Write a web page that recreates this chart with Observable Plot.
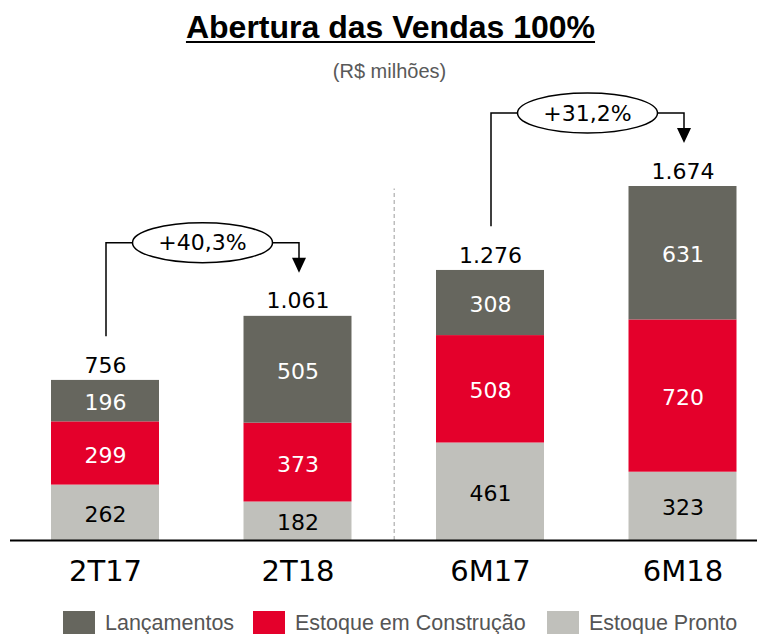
<!DOCTYPE html>
<html><head><meta charset="utf-8">
<script src="https://cdn.jsdelivr.net/npm/d3@7"></script>
<script src="https://cdn.jsdelivr.net/npm/@observablehq/plot@0.6"></script>
<style>
body{margin:0;background:#fff;}
#wrap{position:relative;width:767px;height:634px;overflow:hidden;background:#fff;}
#chart{position:absolute;left:0;top:0;}
#title{position:absolute;left:7px;width:767px;top:9px;text-align:center;font:bold 32px "Liberation Sans",Arial,sans-serif;color:#000;text-decoration:underline;text-decoration-thickness:2px;text-underline-offset:3px;white-space:nowrap;}
#subtitle{position:absolute;left:6px;width:767px;top:60px;text-align:center;font:20px "Liberation Sans",Arial,sans-serif;color:#595959;}
#legend{position:absolute;left:0;top:0;width:767px;height:634px;font:21.5px "Liberation Sans",Arial,sans-serif;color:#555;white-space:nowrap;pointer-events:none;}
#legend .sw{position:absolute;top:611px;width:32px;height:24px;}
#legend .tx{position:absolute;top:611px;line-height:24px;}
</style></head>
<body><div id="wrap">
<div id="title">Abertura das Vendas 100%</div>
<div id="subtitle">(R$ milhões)</div>
<div id="chart"></div>
<div id="legend"></div>
</div>
<script>
const categories = ["2T17", "2T18", "6M17", "6M18"];
const seriesNames = ["Lançamentos", "Estoque em Construção", "Estoque Pronto"];
const lancamentos = [196, 505, 308, 631];
const construcao = [299, 373, 508, 720];
const pronto = [262, 182, 461, 323];
const totals = [756, 1061, 1276, 1674];
const colors = ["#66665E", "#E4002B", "#C0C0BB"];
const growthPairs = [[0, 1], [2, 3]];

const fmt = d3.formatLocale({decimal: ",", thousands: ".", grouping: [3], currency: ["R$", ""]});
const fmtInt = fmt.format(",d");
const fmtPct = fmt.format("+.1%");

// stacked rows (bottom to top: Pronto, Construção, Lançamentos)
const rows = [];
categories.forEach((c, i) => {
  let base = 0;
  [[seriesNames[2], pronto[i]], [seriesNames[1], construcao[i]], [seriesNames[0], lancamentos[i]]].forEach(([s, v]) => {
    rows.push({i, cat: c, series: s, value: v, y1: base, y2: base + v});
    base += v;
  });
});

const half = 0.2805;
const numFont = "'DejaVu Sans', Verdana, sans-serif";

const plot = Plot.plot({
  width: 767,
  height: 634,
  marginLeft: 10,
  marginRight: 10,
  marginTop: 0,
  marginBottom: 94,
  style: {background: "transparent", overflow: "visible"},
  x: {type: "linear", domain: [-0.5, 3.5], range: [8.75, 778.75], axis: null, label: null},
  y: {domain: [0, 1674], range: [540, 186], axis: null, label: null},
  color: {domain: seriesNames, range: colors},
  marks: [
    Plot.ruleX([1.5], {y1: 0, y2: 1662, stroke: "#bdbdbd", strokeWidth: 1.5, strokeDasharray: "4,3"}),
    Plot.rect(rows, {x1: d => d.i - half, x2: d => d.i + half, y1: "y1", y2: "y2", fill: "series"}),
    Plot.text(rows.filter(d => d.series !== seriesNames[2]), {x: d => d.i, y: d => (d.y1 + d.y2) / 2, text: d => fmtInt(d.value), dy: 2, fill: "white", fontSize: 22, fontFamily: numFont}),
    Plot.text(rows.filter(d => d.series === seriesNames[2]), {x: d => d.i, y: d => (d.y1 + d.y2) / 2, text: d => fmtInt(d.value), dy: 2, fill: "black", fontSize: 22, fontFamily: numFont}),
    Plot.text(totals, {x: (d, i) => i, y: d => d, text: d => fmtInt(d), lineAnchor: "bottom", dy: -8, fill: "black", fontSize: 22, fontFamily: numFont}),
    Plot.ruleY([0], {stroke: "black", strokeWidth: 2}),
    Plot.axisX([0, 1, 2, 3], {tickFormat: i => categories[i], tickSize: 0, tickPadding: 20, fontSize: 29, fontFamily: numFont, fill: "black", label: null})
  ]
});
document.getElementById("chart").appendChild(plot);

// growth annotations drawn with the plot's scales
const sx = plot.scale("x"), sy = plot.scale("y");
const svg = d3.select(plot);
const g = svg.append("g");
growthPairs.forEach(([a, b]) => {
  const xa = sx.apply(a) + 1, xb = sx.apply(b) + 1.5;
  const ya = sy.apply(totals[a]) - 44, yb = sy.apply(totals[b]) - 43;
  const yBr = sy.apply(totals[b]) - 73;
  const cx = (xa + xb) / 2, rx = 70, ry = 20;
  g.append("path").attr("d", `M${xa},${ya}V${yBr}H${cx - rx}M${cx + rx},${yBr}H${xb}V${yb - 14}`)
    .attr("fill", "none").attr("stroke", "black").attr("stroke-width", 1.5);
  g.append("path").attr("d", `M${xb - 7},${yb - 15}L${xb + 7},${yb - 15}L${xb},${yb}Z`).attr("fill", "black");
  g.append("ellipse").attr("cx", cx).attr("cy", yBr).attr("rx", rx).attr("ry", ry)
    .attr("fill", "white").attr("stroke", "black").attr("stroke-width", 1.5);
  g.append("text").attr("x", cx).attr("y", yBr).attr("dy", "0.35em").attr("text-anchor", "middle")
    .attr("font-family", numFont).attr("font-size", 22)
    .text(fmtPct(totals[b] / totals[a] - 1));
});

// legend
const legendX = [63, 253, 547];
const leg = d3.select("#legend");
seriesNames.forEach((s, k) => {
  leg.append("span").attr("class", "sw").style("left", legendX[k] + "px").style("background", colors[k]);
  leg.append("span").attr("class", "tx").style("left", (legendX[k] + 42) + "px").text(s);
});
</script>
</body></html>
